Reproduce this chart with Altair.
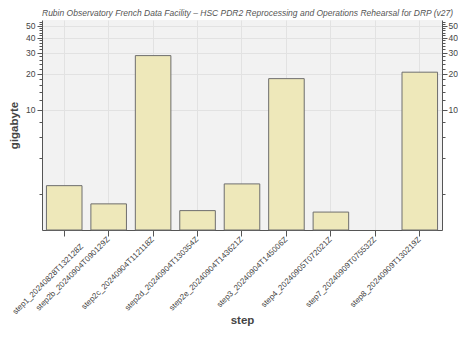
import altair as alt
import pandas as pd

steps = [
    "step1_20240828T132128Z",
    "step2b_20240904T090129Z",
    "step2c_20240904T112118Z",
    "step2d_20240904T130354Z",
    "step2e_20240904T143621Z",
    "step3_20240904T145006Z",
    "step4_20240905T072021Z",
    "step7_20240909T075532Z",
    "step8_20240909T130219Z",
]
gigabytes = [2.34, 1.65, 28.3, 1.45, 2.42, 18.2, 1.41, None, 20.6]

major_ticks = [10, 20, 30, 40, 50]
all_ticks = [2, 4, 6, 8, 10, 12, 14, 16, 18, 20, 22, 24, 26, 28, 30, 32, 34, 36,
             38, 40, 42, 44, 46, 48, 50, 52, 54]

title_text = ("Rubin Observatory French Data Facility \u2013 HSC PDR2 Reprocessing "
              "and Operations Rehearsal for DRP (v27)")

df = pd.DataFrame({"step": steps, "gigabyte": gigabytes})

FONT = "Liberation Sans"
is_major = "indexof([" + ",".join(str(v) for v in major_ticks) + "], datum.value) >= 0"
is_first = f"datum.value == '{steps[0]}'"

yscale = alt.Scale(type="log", domain=[1, 56], nice=False)

def yaxis(orient, with_title, grid):
    kw = dict(
        orient=orient,
        values=all_ticks,
        labelExpr=f"{is_major} ? format(datum.value, 'd') : ''",
        tickSize={"condition": {"test": is_major, "value": 5}, "value": 3},
        tickColor="#555555",
        domainColor="#555555",
        labelColor="#444444",
        labelFont=FONT,
        labelFontSize=8.5,
        labelPadding=2,
        grid=grid,
        gridColor="#e2e2e2",
        gridOpacity={"condition": {"test": is_major, "value": 1}, "value": 0},
    )
    if with_title:
        kw.update(title="gigabyte", titleFont=FONT, titleFontSize=11.5,
                  titleFontWeight="bold", titleColor="#444444", titlePadding=6)
    else:
        kw.update(title=None, labelPadding=1)
    return alt.Axis(**kw)

xenc = alt.X(
    "step:N",
    sort=steps,
    scale=alt.Scale(paddingInner=0.2, paddingOuter=0.1),
    axis=alt.Axis(
        title="step",
        titleFont=FONT,
        titleFontSize=11.5,
        titleFontWeight="bold",
        titleColor="#444444",
        titleY=95,
        titleBaseline="bottom",
        labelAngle=-45,
        labelAlign="right",
        labelBaseline="middle",
        labelFont=FONT,
        labelFontSize=8,
        labelColor="#444444",
        labelPadding={"condition": {"test": is_first, "value": 9}, "value": 2},
        labelOffset={"condition": {"test": is_first, "value": 18}, "value": 0},
        tickSize=6,
        tickColor="#555555",
        domainColor="#555555",
        grid=True,
        gridColor="#e2e2e2",
    ),
)

base = alt.Chart(df).encode(x=xenc)

bars = base.mark_bar(fill="#eee8ba", stroke="#6e6e6e", strokeWidth=1).encode(
    y=alt.Y("gigabyte:Q", scale=yscale, axis=yaxis("left", True, True)),
    y2=alt.datum(1),
)
right = base.mark_bar(opacity=0).encode(
    y=alt.Y("gigabyte:Q", scale=yscale, axis=yaxis("right", False, False)),
    y2=alt.datum(1),
)

chart = (
    alt.layer(bars, right)
    .resolve_axis(y="independent")
    .properties(
        width=400,
        height=210,
        autosize="none",
        padding={"left": 34, "top": 12, "right": 16, "bottom": 99},
        title=alt.Title(
            title_text,
            anchor="start",
            frame="group",
            font=FONT,
            fontSize=8.5,
            fontStyle="italic",
            fontWeight="normal",
            color="#555555",
            offset=3,
        ),
    )
    .configure_view(fill="#f2f2f2", stroke=None)
)

chart.save("out.html", embed_options={"renderer": "svg", "actions": False})
